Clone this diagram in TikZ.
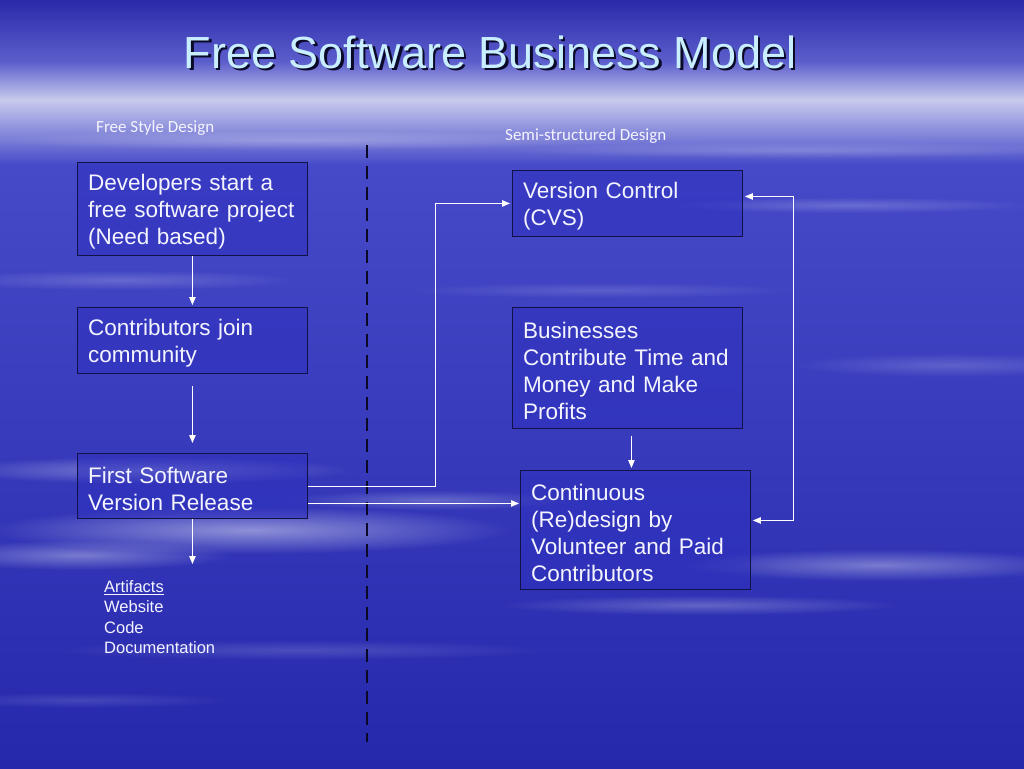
\documentclass[tikz,border=0pt]{standalone}
\usepackage{fontspec}
\setmainfont{Liberation Sans}
\newfontfamily\gillf{Carlito}
\usetikzlibrary{arrows.meta,fadings}
\definecolor{cA}{RGB}{42,42,170}
\definecolor{cB}{RGB}{92,94,204}
\definecolor{cC}{RGB}{200,202,236}
\definecolor{cD}{RGB}{70,74,200}
\definecolor{cE}{RGB}{38,40,172}
\definecolor{boxfill}{RGB}{46,48,190}
\definecolor{boxline}{RGB}{18,18,70}
\definecolor{titlecol}{RGB}{200,238,255}
\definecolor{txt}{RGB}{244,244,255}
\definecolor{divcol}{RGB}{10,10,40}
\tikzfading[name=soft, inner color=transparent!0, outer color=transparent!100]
\tikzset{
  box/.style={draw=boxline, line width=0.9pt, fill=boxfill, fill opacity=0.55,
    anchor=north west, inner sep=0pt, minimum width=230pt},
  boxtext/.style={anchor=west, inner sep=0pt, text width=208pt, align=left, text=txt,
    font=\fontsize{22.5}{27}\selectfont},
  arr/.style={draw=white, line width=0.9pt, -{Triangle[length=8pt,width=6.5pt]}},
  arr2/.style={draw=white, line width=0.9pt, {Triangle[length=8pt,width=6.5pt]}-{Triangle[length=8pt,width=6.5pt]}},
  cloud/.style={fill=white, path fading=soft},
  lbl/.style={anchor=west, text=txt, font=\gillf\fontsize{17}{20}\selectfont, inner sep=0pt},
  divider/.style={draw=divcol, line width=2.6pt, dash pattern=on 13pt off 8pt}
}
\begin{document}
\begin{tikzpicture}[x=1pt,y=-1pt]
\useasboundingbox (0,0) rectangle (1024,768);
% background
\shade[top color=cA, bottom color=cB] (0,0) rectangle (1024,62);
\shade[top color=cB, bottom color=cC] (0,61.5) rectangle (1024,100);
\shade[top color=cC, bottom color=cD] (0,99.5) rectangle (1024,165);
\shade[top color=cD, bottom color=cE] (0,164.5) rectangle (1024,768);
% clouds
\fill[cloud, opacity=.35] (150,470) ellipse [x radius=200pt, y radius=14pt];
\fill[cloud, opacity=.45] (250,530) ellipse [x radius=260pt, y radius=24pt];
\fill[cloud, opacity=.35] (80,555) ellipse [x radius=150pt, y radius=15pt];
\fill[cloud, opacity=.25] (430,500) ellipse [x radius=150pt, y radius=10pt];
\fill[cloud, opacity=.2] (120,280) ellipse [x radius=180pt, y radius=10pt];
\fill[cloud, opacity=.15] (600,290) ellipse [x radius=200pt, y radius=8pt];
\fill[cloud, opacity=.35] (880,565) ellipse [x radius=200pt, y radius=16pt];
\fill[cloud, opacity=.25] (700,605) ellipse [x radius=200pt, y radius=10pt];
\fill[cloud, opacity=.18] (950,365) ellipse [x radius=160pt, y radius=12pt];
\fill[cloud, opacity=.2] (850,205) ellipse [x radius=180pt, y radius=8pt];
\fill[cloud, opacity=.15] (300,650) ellipse [x radius=250pt, y radius=10pt];
\fill[cloud, opacity=.12] (80,700) ellipse [x radius=150pt, y radius=8pt];
\fill[cloud, opacity=.25] (300,140) ellipse [x radius=320pt, y radius=10pt];
\fill[cloud, opacity=.2] (800,150) ellipse [x radius=300pt, y radius=8pt];

% title
\node[text=divcol, font=\fontsize{45}{54}\selectfont] (titleshadow) at (492.5,54.5) {Free Software Business Model};
\node[text=titlecol, font=\fontsize{45}{54}\selectfont] (title) at (490,52) {Free Software Business Model};

% section labels
\node[lbl] (fsd) at (96,128) {Free Style Design};
\node[lbl] (ssd) at (505,136) {Semi-structured Design};

% divider
\coordinate (dtop) at (367,145);
\coordinate (dbot) at (367,742);
\draw[divider] (dtop) -- (dbot);

% boxes
\node[box, minimum height=93pt] (dev) at (77,162) {};
\node[box, minimum height=66pt] (con) at (77,307) {};
\node[box, minimum height=65pt] (fir) at (77,453) {};
\node[box, minimum height=66pt] (vc) at (512,170) {};
\node[box, minimum height=121pt] (bus) at (512,307) {};
\node[box, minimum height=119pt] (cont) at (520,470) {};

\node[boxtext] (devt) at ([xshift=11pt,yshift=-3pt]dev.west) {Developers start a\\free software project\\(Need based)};
\node[boxtext] (cont1) at ([xshift=11pt,yshift=-3pt]con.west) {Contributors join\\community};
\node[boxtext] (firt) at ([xshift=11pt,yshift=-3pt]fir.west) {First Software\\Version Release};
\node[boxtext] (vct) at ([xshift=11pt,yshift=-3pt]vc.west) {Version Control\\(CVS)};
\node[boxtext] (bust) at ([xshift=11pt,yshift=-3pt]bus.west) {Businesses\\Contribute Time and\\Money and Make\\Profits};
\node[boxtext] (contt) at ([xshift=11pt,yshift=-3pt]cont.west) {Continuous\\(Re)design by\\Volunteer and Paid\\Contributors};

% artifacts
\node[anchor=north west, text=txt, align=left, inner sep=0pt, font=\fontsize{16.5}{20.5}\selectfont] (art) at (104,580)
  {\underline{Artifacts}\\Website\\Code\\Documentation};

% connectors
\draw[arr, shorten >=2pt] (dev.south) -- (con.north);
\draw[arr, shorten <=12pt, shorten >=10pt] (con.south) -- (fir.north);
\draw[arr, shorten >=16pt] (fir.south) -- (fir.south |- art.north);
\draw[arr, shorten >=2pt] (fir.east) -- ++(128,0) |- (vc.west);
\draw[arr, shorten >=1pt] ([yshift=-17.5pt]fir.east) -- ([yshift=-17.5pt]fir.east -| cont.west);
\draw[arr, shorten <=7pt, shorten >=2pt] ([xshift=4pt]bus.south) -- ([xshift=4pt]bus.south |- cont.north);
\draw[arr2, shorten <=2pt, shorten >=2pt] ([yshift=7pt]vc.east) -- ++(51,0) |- ([yshift=9.5pt]cont.east);
\end{tikzpicture}
\end{document}
